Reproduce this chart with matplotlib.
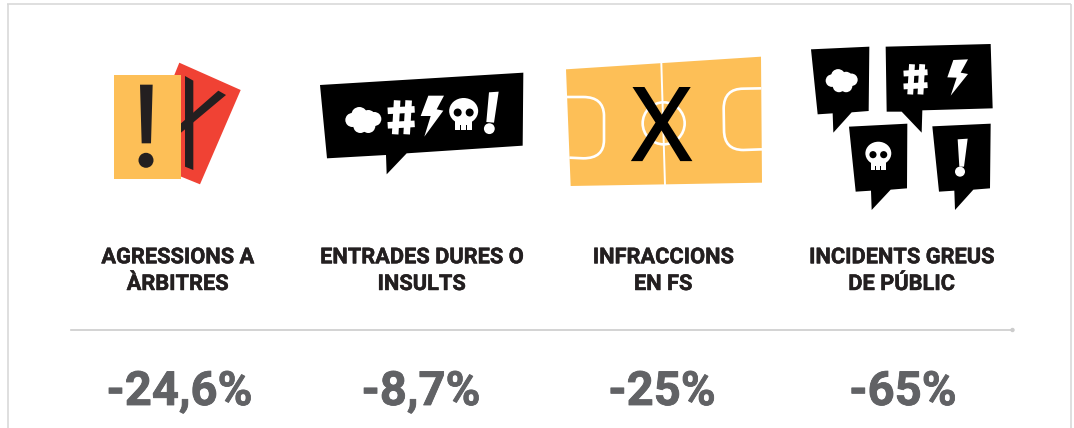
import matplotlib
matplotlib.use("Agg")
import matplotlib.pyplot as plt
import matplotlib.patheffects as pe
from matplotlib.patches import Polygon, Circle, PathPatch, Rectangle, Ellipse
from matplotlib.path import Path

# ---- data ----
categories = [["AGRESSIONS A", "ÀRBITRES"], ["ENTRADES DURES O", "INSULTS"],
              ["INFRACCIONS", "EN FS"], ["INCIDENTS GREUS", "DE PÚBLIC"]]
values = ["-24,6%", "-8,7%", "-25%", "-65%"]
label_x = [177.5, 421.5, 663, 901.5]
value_x = [179.5, 421, 662, 903]

YEL = "#fdbf57"; RED = "#f04234"; INK = "#231f20"; GREY = "#616265"; RULE = "#cccccc"

W, H = 1074, 428
fig = plt.figure(figsize=(W / 100, H / 100), dpi=100, facecolor="white")
ax = fig.add_axes([0, 0, 1, 1])
ax.set_xlim(0, W); ax.set_ylim(H, 0); ax.axis("off")

def z1(p): return [(x / 3 + 90, y / 3 + 40) for x, y in p]
def z2(p): return [(x / 3 + 550, y / 3 + 30) for x, y in p]
def poly(p, c, z=2): ax.add_patch(Polygon(p, closed=True, fc=c, ec="none", zorder=z))
def circ(x, y, r, c, z=4): ax.add_patch(Circle((x, y), r, fc=c, ec="none", zorder=z))

def cloud(cx, cy, w, z=4):
    s = w / 36
    for dx, dy, r in [(-11, 0, 7), (-4, -5, 8), (-3, 6, 7), (5, 6, 7), (5, -3, 7), (11, -1, 7)]:
        circ(cx + dx * s, cy + dy * s, r * s, "white", z)

def hashmark(cx, cy, w, z=4):
    k = w / 27
    t = 3.3 * k
    def bar(x0, y0, x1, y1):
        dx, dy = x1 - x0, y1 - y0
        n = (dx * dx + dy * dy) ** .5
        ox, oy = -dy / n * t, dx / n * t
        poly([(cx + x0 * k + ox, cy + y0 * k + oy), (cx + x1 * k + ox, cy + y1 * k + oy),
              (cx + x1 * k - ox, cy + y1 * k - oy), (cx + x0 * k - ox, cy + y0 * k - oy)], "white", z)
    bar(-4.5, -17, -6.5, 17); bar(7, -17, 5, 17)
    bar(-14, -6.5, 13, -8); bar(-14, 8, 13, 6.5)

def skull(cx, cy, w, z=4):
    k = w / 28
    ax.add_patch(Ellipse((cx, cy - 3 * k), 29 * k, 26 * k, fc="white", ec="none", zorder=z))
    ax.add_patch(Rectangle((cx - 8.5 * k, cy + 5 * k), 17 * k, 10.5 * k, fc="white", ec="none", zorder=z))
    circ(cx - 6 * k, cy - 1.5 * k, 4 * k, "black", z + 1)
    circ(cx + 6 * k, cy - 1.5 * k, 4 * k, "black", z + 1)
    for d in (-2.8, 2.8):
        ax.add_patch(Rectangle((cx + d * k - .4, cy + 11 * k), .8, 4.6 * k, fc="black", ec="none", zorder=z + 1))

def curve(pts, lw=1.9):
    codes = [Path.MOVETO, Path.LINETO, Path.CURVE3, Path.CURVE3, Path.LINETO, Path.CURVE3, Path.CURVE3, Path.LINETO]
    ax.add_patch(PathPatch(Path(z2(pts), codes), fc="none", ec="white", lw=lw, zorder=3))

# outer frame
for xs, ys in [([7.5, 7.5], [428, 4.3]), ([7, 1071], [4.3, 4.3]), ([1070.5, 1070.5], [4.3, 428])]:
    ax.plot(xs, ys, color="#d6d6d6", lw=1.1, zorder=1, solid_capstyle="butt")

# --- cards ---
poly([(179.3, 62.7), (240.7, 90), (200, 184.3), (140, 160)], RED, 2)
poly(z1([(285, 108), (310, 122), (310, 390), (285, 380)]), INK, 3)
poly(z1([(385, 152), (408, 165), (273, 278), (273, 250)]), INK, 3)
ax.add_patch(Rectangle((114, 75), 67, 104, fc=YEL, ec="none", zorder=4))
poly(z1([(150, 134), (188, 134), (183, 310), (155, 310)]), INK, 5)
circ(146, 160.3, 7.5, INK, 5)

# --- long bubble ---
poly(z1([(690, 135), (1300, 98), (1298, 317), (950, 340), (890, 403), (888, 345), (711, 355)]), "black")
cloud(*z1([(820, 240)])[0], 36)
hashmark(*z1([(935, 232)])[0], 27)
poly(z1([(1015, 167), (1062, 167), (1040, 208), (1060, 212), (1003, 290), (1022, 228), (992, 228)]), "white", 4)
skull(*z1([(1121, 222)])[0], 28)
poly(z1([(1197, 157), (1226, 155), (1212, 248), (1189, 246)]), "white", 4)
circ(*z1([(1198, 266)])[0], 5.4, "white")

# --- pitch ---
poly(z2([(48, 118), (633, 80), (636, 458), (62, 468)]), YEL, 2)
ax.plot(*zip(*z2([(334, 100), (345, 465)])), color="white", lw=1.4, zorder=3)
ax.add_patch(Circle(z2([(341, 280)])[0], 21, fc="none", ec="white", lw=1.9, zorder=3))
curve([(50, 201), (100, 201), (160, 201), (162, 255), (162, 330), (162, 385), (100, 385), (58, 383)])
curve([(634, 175), (580, 176), (522, 176), (521, 235), (522, 300), (522, 360), (580, 360), (636, 358)])
ax.text(661.7, 160, "X", family="Open Sans", fontsize=72.5, color="black", ha="center", va="baseline", zorder=5,
        path_effects=[pe.withStroke(linewidth=1.6, foreground="black", joinstyle="miter")])

# --- four bubbles ---
poly(z2([(783, 58), (958, 50), (956, 243), (905, 247), (850, 308), (848, 250), (803, 253)]), "black")
poly(z2([(1007, 50), (1322, 42), (1328, 235), (1117, 241), (1115, 308), (1055, 245), (1010, 245)]), "black")
poly(z2([(897, 290), (1072, 281), (1071, 475), (1022, 479), (965, 540), (963, 482), (917, 485)]), "black")
poly(z2([(1147, 289), (1322, 281), (1320, 475), (1270, 479), (1215, 540), (1213, 482), (1167, 485)]), "black")
cloud(*z2([(875, 152)])[0], 32)
hashmark(*z2([(1098, 148)])[0], 24)
poly(z2([(1210, 90), (1254, 88), (1232, 128), (1254, 132), (1202, 197), (1220, 143), (1192, 142)]), "white", 4)
skull(*z2([(985, 378)])[0], 25)
poly(z2([(1223, 328), (1253, 326), (1242, 410), (1228, 410)]), "white", 4)
circ(*z2([(1230, 425)])[0], 5, "white")

# --- text ---
thick = lambda c, w: [pe.withStroke(linewidth=w, foreground=c)]
for x, (l1, l2) in zip(label_x, categories):
    for y, s in ((263.3, l1), (290, l2)):
        ax.text(x, y, s, family="Roboto", weight="bold", fontsize=15.7, color=INK,
                ha="center", va="baseline", path_effects=thick(INK, 0.35))

ax.plot([71, 1012], [330, 330], color=RULE, lw=1.2, zorder=2)
circ(1012.5, 330, 2.2, RULE, 2)

for x, v in zip(value_x, values):
    ax.text(x, 405, v, family="Roboto", weight="bold", fontsize=34, color=GREY,
            ha="center", va="baseline", path_effects=thick(GREY, 0.6))

fig.savefig("out.png", dpi=100, facecolor="white")
